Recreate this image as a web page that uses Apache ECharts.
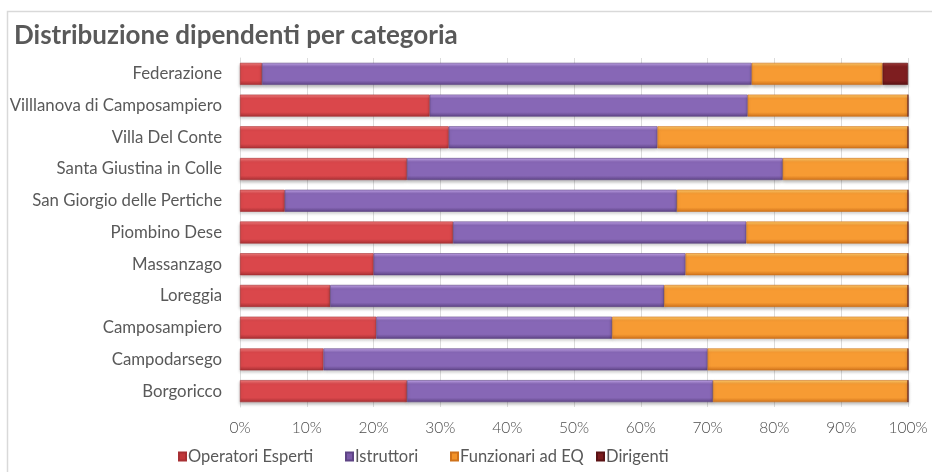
<!DOCTYPE html>
<html>
<head>
<meta charset="utf-8">
<script src="https://cdn.jsdelivr.net/npm/echarts@6/dist/echarts.min.js"></script>
<style>
  html, body { margin: 0; padding: 0; background: #fff; }
  #chart { width: 932px; height: 472px; }
</style>
</head>
<body>
<div id="chart"></div>
<script>
// Enti, dal basso verso l'alto
const categories = [
  'Borgoricco', 'Campodarsego', 'Camposampiero', 'Loreggia', 'Massanzago',
  'Piombino Dese', 'San Giorgio delle Pertiche', 'Santa Giustina in Colle',
  'Villa Del Conte', 'Villlanova di Camposampiero', 'Federazione'
];
const seriesNames = ['Operatori Esperti', 'Istruttori', 'Funzionari ad EQ', 'Dirigenti'];
// Quote percentuali per categoria di personale
const operatoriEsperti = [25.0, 12.5, 20.4, 13.5, 20.0, 31.9, 6.7, 25.0, 31.25, 28.4, 3.3];
const istruttori       = [45.8, 57.5, 35.3, 50.0, 46.7, 43.9, 58.7, 56.25, 31.25, 47.6, 73.3];
const funzionariEQ     = [29.2, 30.0, 44.3, 36.5, 33.3, 24.2, 34.6, 18.75, 37.5, 24.0, 19.6];
const dirigenti        = [0, 0, 0, 0, 0, 0, 0, 0, 0, 0, 3.8];
const tickLabels = ['0%', '10%', '20%', '30%', '40%', '50%', '60%', '70%', '80%', '90%', '100%'];

const values = [operatoriEsperti, istruttori, funzionariEQ, dirigenti];
const palette = [
  { light: '#f47e7e', mid: '#da474b', dark: '#a83034', legend: '#c0393c' },
  { light: '#c4a6ec', mid: '#8767b6', dark: '#5e4485', legend: '#7b5aa8' },
  { light: '#ffcb6a', mid: '#f79b33', dark: '#cf721b', legend: '#f39228' },
  { light: '#a53a3a', mid: '#7e1e20', dark: '#5a1214', legend: '#7b1c1e' }
];
// Posizione orizzontale di ogni voce di legenda
const legendLeft = [173, 340, 445, 591];

function bevel(c) {
  return new echarts.graphic.LinearGradient(0, 0, 0, 1, [
    { offset: 0, color: c.light },
    { offset: 0.18, color: c.mid },
    { offset: 0.8, color: c.mid },
    { offset: 1, color: c.dark }
  ]);
}

const chart = echarts.init(document.getElementById('chart'));
chart.setOption({
  backgroundColor: '#ffffff',
  animation: false,
  graphic: [{
    type: 'rect',
    shape: { x: 7.5, y: 11.5, width: 1000, height: 500 },
    style: { fill: 'none', stroke: '#d9d9d9', lineWidth: 1.5 },
    silent: true, z: -1
  }],
  title: {
    text: 'Distribuzione dipendenti per categoria',
    left: 9, top: 18,
    textStyle: { fontFamily: 'Lato', fontWeight: 'bold', fontSize: 26, color: '#595959' }
  },
  legend: seriesNames.map((n, i) => ({
    left: legendLeft[i], top: 443,
    icon: 'rect', itemWidth: 7, itemHeight: 8,
    textStyle: { fontFamily: 'Lato', fontSize: 16.5, color: '#595959', padding: [0, 0, 0, -3] },
    data: [{ name: n, itemStyle: { color: palette[i].legend } }]
  })),
  grid: { left: 240, right: 24, top: 58, bottom: 65 },
  xAxis: {
    type: 'value', min: 0, max: 100, interval: 10,
    axisLine: { show: false }, axisTick: { show: false },
    splitLine: { show: true, lineStyle: { color: '#dcdcdc', width: 1 } },
    axisLabel: {
      margin: 13, fontFamily: 'Lato', fontWeight: 300, fontSize: 15.5, color: '#4d4d4d',
      formatter: v => tickLabels[Math.round(v / 10)]
    }
  },
  yAxis: {
    type: 'category', data: categories,
    axisLine: { show: true, lineStyle: { color: '#dcdcdc' } },
    axisTick: { show: false },
    axisLabel: { margin: 18, fontFamily: 'Lato', fontSize: 16.8, color: '#595959' }
  },
  series: seriesNames.map((name, i) => ({
    name, type: 'bar', stack: 'tot', barWidth: 22,
    data: values[i],
    itemStyle: {
      color: bevel(palette[i]),
      borderColor: palette[i].dark, borderWidth: 0.6,
      shadowColor: 'rgba(0,0,0,0.25)', shadowBlur: 3, shadowOffsetY: 2
    }
  }))
});
</script>
</body>
</html>
